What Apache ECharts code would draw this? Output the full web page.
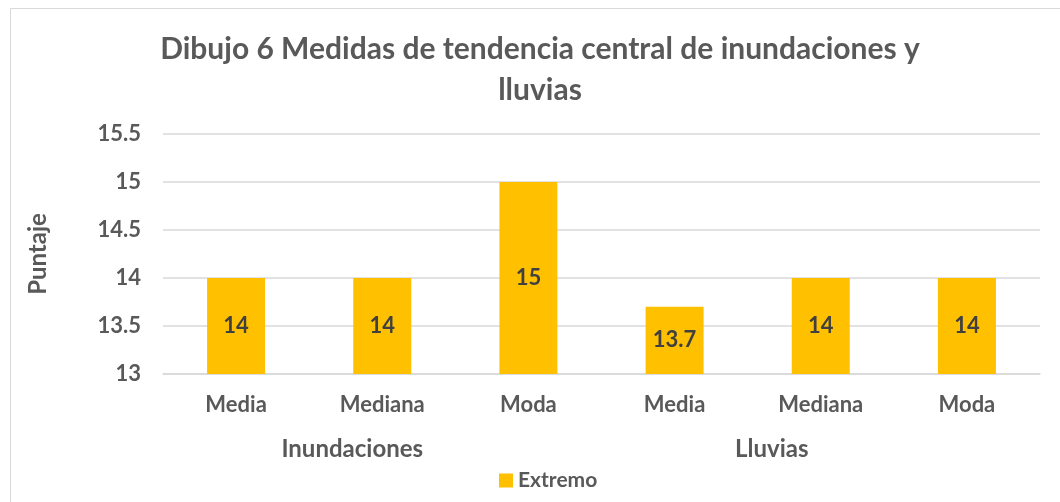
<!DOCTYPE html>
<html>
<head>
<meta charset="utf-8">
<script src="https://cdn.jsdelivr.net/npm/echarts@6/dist/echarts.min.js"></script>
<style>
html, body { margin: 0; padding: 0; background: #fff; }
#chart { width: 1060px; height: 502px; }
</style>
</head>
<body>
<div id="chart"></div>
<script>
// datos del gráfico
const medidas = ['Media', 'Mediana', 'Moda', 'Media', 'Mediana', 'Moda'];
const grupos = ['Inundaciones', 'Lluvias'];
const extremo = [14, 14, 15, 13.7, 14, 14];
const serieNombre = 'Extremo';

const gris = '#595959';
const fuente = 'Lato';

const myChart = echarts.init(document.getElementById('chart'));

const option = {
	textStyle: { fontFamily: fuente },
	// marco del gráfico
	graphic: [{
		type: 'rect',
		shape: { x: 10.5, y: 8.5, width: 1060, height: 510 },
		style: { fill: 'none', stroke: '#d9d9d9', lineWidth: 1 },
		silent: true
	}],
	title: {
		text: 'Dibujo 6 Medidas de tendencia central de inundaciones y\nlluvias',
		left: 535,
		textAlign: 'center',
		top: 24,
		textStyle: {
			fontFamily: fuente,
			fontSize: 30,
			fontWeight: 'bold',
			color: gris,
			lineHeight: 41
		}
	},
	legend: {
		data: [serieNombre],
		bottom: 6,
		left: 494,
		itemWidth: 14,
		itemHeight: 14,
		itemGap: 4,
		icon: 'rect',
		textStyle: { fontFamily: fuente, fontSize: 21, fontWeight: 'bold', color: gris, padding: [0, 0, 0, 0] }
	},
	grid: { left: 163, right: 20, top: 134, bottom: 128 },
	xAxis: [{
		type: 'category',
		data: medidas,
		axisLine: { show: true, lineStyle: { color: '#d9d9d9', width: 1.5 } },
		axisTick: { show: false },
		axisLabel: { margin: 20, fontFamily: fuente, fontSize: 22, fontWeight: 'bold', color: gris }
	}, {
		type: 'category',
		position: 'bottom',
		data: grupos,
		axisLine: { show: false },
		axisTick: { show: false },
		axisLabel: {
			margin: 63,
			formatter: function (v, i) { return i === 0 ? '{a|' + v + '}' : '{b|' + v + '}'; },
			rich: {
				a: { fontFamily: fuente, fontSize: 24, fontWeight: 'bold', color: gris, padding: [0, 60, 0, 0] },
				b: { fontFamily: fuente, fontSize: 24, fontWeight: 'bold', color: gris, padding: [0, 98, 0, 0] }
			}
		}
	}],
	yAxis: {
		type: 'value',
		min: 13,
		max: 15.5,
		interval: 0.5,
		name: 'Puntaje',
		nameLocation: 'middle',
		nameGap: 113,
		nameTextStyle: { fontFamily: fuente, fontSize: 24, fontWeight: 'bold', color: gris },
		axisLine: { show: false },
		axisTick: { show: false },
		axisLabel: { margin: 22, fontFamily: fuente, fontSize: 22, fontWeight: 'bold', color: gris },
		splitLine: { lineStyle: { color: '#d9d9d9', width: 1.5 } }
	},
	series: [{
		name: serieNombre,
		type: 'bar',
		data: extremo,
		barWidth: 58,
		itemStyle: { color: '#FFC000' },
		label: {
			show: true,
			position: 'inside',
			fontFamily: fuente,
			fontSize: 22,
			fontWeight: 'bold',
			color: '#404040'
		}
	}]
};

myChart.setOption(option);
</script>
</body>
</html>
